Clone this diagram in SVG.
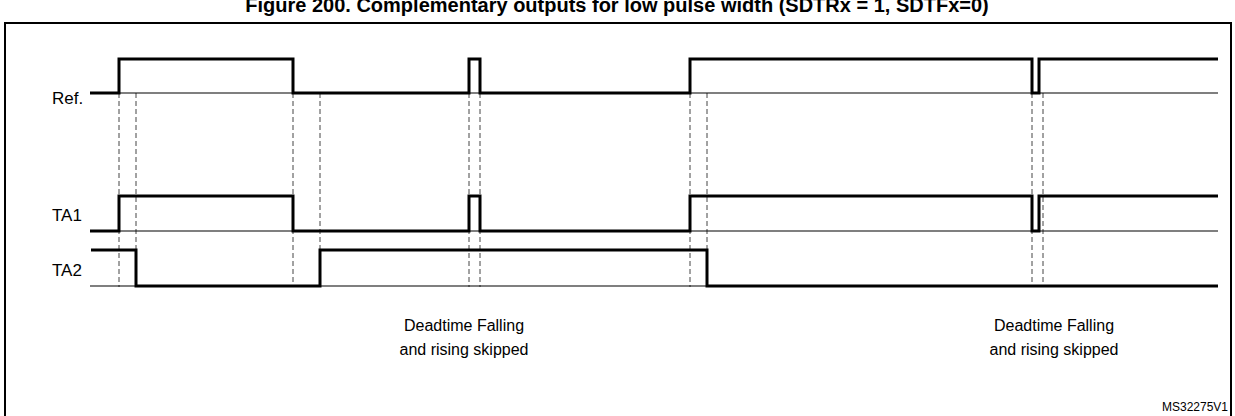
<svg xmlns="http://www.w3.org/2000/svg" width="1235" height="416" viewBox="0 0 1235 416">
<style>
text{font-family:"Liberation Sans",Arial,sans-serif;fill:#000}
.lbl{font-size:17px}
.note{font-size:16px;text-anchor:middle}
.sig{fill:none;stroke:#000;stroke-width:3}
.base{stroke:#000;stroke-width:1.2}
.dash{stroke:#444;stroke-width:1;stroke-dasharray:5,3}
</style>
<rect width="1235" height="416" fill="#fff"/>
<text x="617" y="12" font-size="20" font-weight="bold" text-anchor="middle">Figure 200. Complementary outputs for low pulse width (SDTRx = 1, SDTFx=0)</text>
<rect x="5" y="23" width="1226" height="400" fill="none" stroke="#000" stroke-width="2"/>
<g id="connectors">
<g class="dash">
<line x1="119" y1="93" x2="119" y2="287"/><line x1="136" y1="93" x2="136" y2="287"/>
<line x1="293" y1="93" x2="293" y2="287"/><line x1="320" y1="93" x2="320" y2="287"/>
<line x1="469" y1="93" x2="469" y2="287"/><line x1="480" y1="93" x2="480" y2="287"/>
<line x1="690" y1="93" x2="690" y2="287"/><line x1="707" y1="93" x2="707" y2="287"/>
<line x1="1032" y1="93" x2="1032" y2="287"/><line x1="1043" y1="93" x2="1043" y2="287"/>
</g>
<line class="base" x1="90" y1="93" x2="1218" y2="93"/>
<line class="base" x1="90" y1="231" x2="1218" y2="231"/>
<line class="base" x1="90" y1="286" x2="1218" y2="286"/>
</g>
<g id="ref">
<text class="lbl" x="52" y="104">Ref.</text>
<polyline class="sig" points="90,93 119,93 119,59 293,59 293,93 469,93 469,59 480,59 480,93 690,93 690,59 1032,59 1032,93 1039,93 1039,59 1218,59"/>
</g>
<g id="ta1">
<text class="lbl" x="52" y="221">TA1</text>
<polyline class="sig" points="90,231 119,231 119,196 293,196 293,231 469,231 469,196 480,196 480,231 690,231 690,196 1032,196 1032,231 1039,231 1039,196 1218,196"/>
</g>
<g id="ta2">
<text class="lbl" x="52" y="276">TA2</text>
<polyline class="sig" points="91,250 136,250 136,286 320,286 320,250 707,250 707,286 1218,286"/>
</g>
<g id="note1">
<text class="note" x="464" y="331">Deadtime Falling</text>
<text class="note" x="464" y="355">and rising skipped</text>
</g>
<g id="note2">
<text class="note" x="1054" y="331">Deadtime Falling</text>
<text class="note" x="1054" y="355">and rising skipped</text>
</g>
<text x="1228" y="411" font-size="12" text-anchor="end">MS32275V1</text>
</svg>
